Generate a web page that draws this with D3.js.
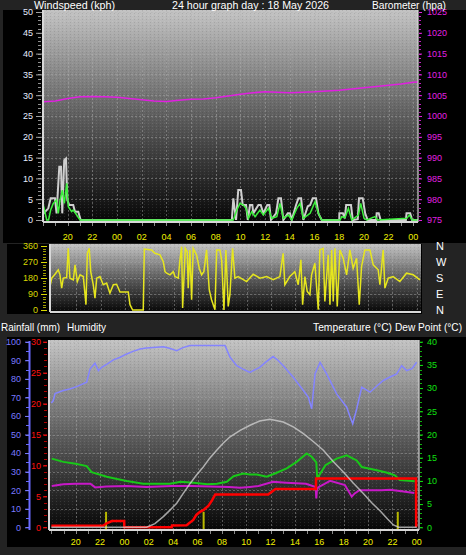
<!DOCTYPE html>
<html><head><meta charset="utf-8">
<script src="https://cdn.jsdelivr.net/npm/d3@7"></script>
<style>html,body{margin:0;padding:0;background:#232323;overflow:hidden}svg{display:block}</style>
</head><body><svg id="c" width="466" height="555"></svg>
<script>
// ---------- DATA (hours counted from 00:00 of previous day) ----------
const xTickHours = [20,22,24,26,28,30,32,34,36,38,40,42,44,46,48];
const windTicks = [0,5,10,15,20,25,30,35,40,45,50];
const baroTicks = [975,980,985,990,995,1000,1005,1010,1015,1020,1025];
const dirTicks = [0,90,180,270,360];
const compassLabels = ["N","W","S","E","N"];
const humTicks = [0,10,20,30,40,50,60,70,80,90,100];
const rainTicks = [0,5,10,15,20,25,30];
const tempTicks = [0,5,10,15,20,25,30,35,40];

const avgT = [18.0,18.3,18.45,18.62,18.83,19.1,19.24,19.38,19.57,19.73,19.92,20.05,20.32,20.45,20.73,21.0,33.42,33.7,33.96,34.23,34.45,34.64,34.91,35.18,35.58,35.85,36.26,36.53,36.94,37.2,37.47,37.88,38.15,38.56,38.83,39.09,39.64,40.04,40.31,40.58,42.07,42.2,42.47,42.74,43.01,43.55,43.74,44.01,44.23,44.9,45.1,47.47,47.68,47.9,48.38];
const avgV = [4.0,0,0,2.4,4,4.8,1.6,4.8,7.2,4,8.8,3.2,2.0,2.4,1.2,0,0,2.4,4,3.6,2.8,0.4,2,0.8,2.4,1.2,2.8,0.4,0.8,4,0.4,1.2,0,2.8,4,0.4,1.6,4.4,1.6,0,0,0.8,0.6,2.8,0,1.2,4,0.4,0,0.8,0,0.4,1.2,0,0];
const gustT = [18.02,18.43,18.62,18.97,19.1,19.32,19.46,19.56,19.72,19.86,19.97,20.13,20.45,20.59,20.86,21.05,33.3,33.42,33.64,33.82,34.04,34.18,34.45,34.59,34.77,34.96,35.04,35.45,35.64,35.85,36.17,36.34,36.47,36.88,37.07,37.28,37.47,37.83,38.01,38.15,38.5,38.69,38.91,39.09,39.45,39.64,39.85,40.12,40.31,40.58,42.0,42.01,42.3,42.45,42.56,42.95,43.1,43.5,43.6,43.9,44.1,44.3,45.0,45.03,45.2,45.35,47.4,47.45,47.75,47.9,48.38];
const gustV = [1.5,2.8,5.2,5.2,1.6,12.8,12.8,1.6,14.4,14.8,4.8,3.6,3.6,2.0,2.0,0,0,5.2,0,7.2,7.2,3.6,3.6,0,3.6,3.6,1.6,3.6,3.6,1.6,3.6,3.6,0,1.6,5.2,5.2,0,1.6,1.6,0,3.6,5.2,5.2,0,3.3,3.6,5.2,5.2,1.6,0,0,1.6,1.6,0.4,3.6,3.6,0,0.2,5.2,5.2,1.6,0,0,1.6,1.6,0,0,1.6,1.6,0,0];
const baroT = [18.0,19,20,21,22,23,24,25,26,27,28,29,30,31,32,33,34,35,36,37,38,39,40,41,42,43,44,45,46,47,48,48.38];
const baroV = [1003.4,1003.6,1004.2,1004.6,1004.7,1004.6,1004.5,1004.2,1003.9,1003.6,1003.5,1003.8,1004.0,1004.1,1004.4,1004.8,1005.2,1005.6,1005.8,1005.7,1005.6,1005.7,1005.8,1006.0,1006.2,1006.5,1006.8,1007.1,1007.4,1007.7,1008.1,1008.2];

const dirT = [17.83,17.97,18.24,18.51,18.65,18.79,18.92,19.2,19.33,19.47,19.75,19.89,20.08,20.3,20.57,20.79,20.9,21.06,21.18,21.39,21.53,21.67,21.94,22.21,22.49,22.76,23.04,23.31,23.59,24.27,24.41,24.63,25.5,25.59,26.19,26.46,26.88,27.15,27.29,27.43,27.7,27.97,28.11,28.38,28.52,28.66,28.74,28.85,28.96,29.12,29.2,29.34,29.48,29.61,29.89,30.11,30.3,30.49,30.71,30.93,31.12,31.4,31.54,31.81,31.95,32.14,32.3,32.49,32.63,32.85,33.04,33.31,34.0,34.55,35.1,35.65,36.19,36.74,37.01,37.15,37.56,37.97,38.25,38.47,38.61,38.8,38.99,39.21,39.35,39.62,39.9,40.03,40.3,40.44,40.72,40.86,41.0,41.13,41.27,41.46,41.68,41.95,42.23,42.5,42.77,43.05,43.27,43.46,43.73,44.15,44.42,44.83,44.97,45.24,45.38,45.65,46.06,46.61,47.16,47.71,48.26];
const dirV = [132,179,201,226,198,123,179,183,347,179,170,254,160,198,188,30,319,347,216,142,67,179,188,142,151,95,142,145,101,101,30,0,0,343,338,319,310,272,216,207,198,216,188,179,282,356,11,179,347,328,123,338,58,347,310,235,198,216,338,114,58,2,338,338,282,0,338,20,86,347,179,188,160,201,179,188,170,188,319,142,188,216,142,282,30,188,104,86,198,263,2,338,347,48,310,30,338,48,347,20,338,291,198,338,235,291,30,244,338,338,254,226,142,338,123,179,188,160,207,198,170];

const humT = [18.0,18.16,18.3,18.98,19.5,20.08,20.9,21.17,21.58,21.86,22.13,22.6,23.09,23.6,24.19,24.7,25.28,25.8,26.37,27.19,27.7,28.29,28.8,29.38,30.5,31.5,32.26,32.67,33.22,33.8,34.3,35.1,35.6,36.2,36.6,37.04,37.86,38.69,39.1,39.37,39.65,40.06,40.6,41.42,42.25,42.5,42.74,43.07,43.48,44.16,44.7,45.25,45.8,46.35,46.76,47.17,47.6,47.99];
const humV = [67,68.3,72,73.7,74.5,75.8,78.2,85.3,88.4,84.4,86.2,88,90.2,91.5,93.4,94.8,96.1,96.6,96.9,97.3,96.5,95.2,96.8,97.9,97.9,97.9,97.9,91.6,87.1,85,83.5,86.2,89,92,90,87.1,80.8,73.7,70,63.9,82.7,88.9,82.7,71.9,64.7,60,55.8,63.9,75.5,72.8,76,79.1,81,82.7,87.1,84.4,85.5,88.9];
const tempT = [18.03,18.98,20.0,20.9,21.3,22.55,23.4,24.19,25.55,26.6,27.74,28.6,29.7,30.8,31.6,32.4,32.96,33.76,34.3,34.86,35.68,36.36,37.32,38.14,38.96,39.37,39.75,39.83,40.5,41.42,42.25,43.07,43.48,44.72,45.5,46.2,46.6,47.84];
const tempV = [14.8,14.1,13.7,13.2,11.9,10.9,10.4,10.0,9.4,9.4,9.4,9.8,9.6,9.3,9.4,9.8,11.0,11.6,11.4,11.4,10.9,11.6,12.7,14.1,15.9,15.2,14.0,10.5,13.4,14.8,15.5,14.4,13.0,12.3,11.8,11.2,10.2,9.9];
const dewT = [18.03,18.98,20.0,21.2,21.6,22.5,24.19,25.8,27.9,29.5,31.0,32.6,33.5,34.3,35.0,36.2,37.3,38.9,39.7,39.75,39.8,39.9,40.88,42.1,42.66,42.9,43.3,44.2,45.1,45.8,46.6,47.8];
const dewV = [8.9,9.3,9.4,9.4,8.6,8.8,8.9,8.7,8.9,8.9,8.8,8.7,8.5,8.7,8.9,9.8,9.6,9.4,8.7,6.2,8.0,8.6,10.0,9.1,6.6,7.3,8.0,8.0,8.0,8.1,7.8,7.4];
const rainT = [18.0,22.25,22.5,22.96,23.98,23.99,27.88,27.9,29.1,29.4,29.65,29.9,30.2,30.5,30.9,31.2,31.45,35.8,36.4,39.72,39.73,47.94,47.95];
const rainV = [0.25,0.25,0.6,1.0,1.0,0,0,0.3,0.35,0.8,1.2,2.0,2.5,2.8,3.5,4.4,5.3,5.3,6.2,6.2,7.9,7.9,0];
const solarT = [18.0,25.83,26.5,27.19,27.7,28.29,28.8,29.38,29.9,30.47,31.0,31.57,32.1,32.67,33.5,34.31,35.1,35.95,37.04,37.9,38.69,39.5,40.33,41.1,41.97,42.8,43.61,44.3,45.0,45.6,46.08,46.5,48.0];
const solarV = [0,0,0.8,2.3,3.6,5.2,7.2,9.4,11.2,13.0,14.9,16.6,18.1,19.5,20.9,22.0,22.9,23.3,22.7,21.6,20.2,18.5,16.6,14.3,11.9,9.5,7.3,5.3,3.5,1.8,0.5,0,0];
const rateT = [22.49,30.5,46.44];
const rateV = [2.5,2.5,2.5];

// ---------- DRAW ----------
const svg = d3.select("#c");
const FONT = "Liberation Sans, Arial, sans-serif";
const zip = (a,b) => a.map((t,i)=>({t, v:b[i]}));
const pad = h => String(h%24).padStart(2,"0");
const defs = svg.append("defs");
const grad = defs.append("linearGradient").attr("id","bg").attr("x1",0).attr("y1",0).attr("x2",0).attr("y2",1);
grad.append("stop").attr("offset","0").attr("stop-color","#c4c4c4");
grad.append("stop").attr("offset","0.5").attr("stop-color","#5e5e5e");
grad.append("stop").attr("offset","1").attr("stop-color","#060606");
const pat = defs.append("pattern").attr("id","tex").attr("width",4).attr("height",3).attr("patternUnits","userSpaceOnUse");
pat.append("rect").attr("x",0).attr("y",0).attr("width",1).attr("height",1).attr("fill","#fff").attr("opacity",0.10);
pat.append("rect").attr("x",2).attr("y",1).attr("width",1).attr("height",1).attr("fill","#000").attr("opacity",0.10);

// panels
svg.append("rect").attr("x",3).attr("y",10).attr("width",463).attr("height",233).attr("fill","#000");
svg.append("rect").attr("x",7).attr("y",244).attr("width",415).attr("height",70).attr("fill","#000");
svg.append("rect").attr("x",7).attr("y",337).attr("width",459).attr("height",210).attr("fill","#000");

function plotBg(x0,y0,x1,y1){
  svg.append("rect").attr("x",x0).attr("y",y0).attr("width",x1-x0).attr("height",y1-y0).attr("fill","url(#bg)");
  svg.append("rect").attr("x",x0).attr("y",y0).attr("width",x1-x0).attr("height",y1-y0).attr("fill","url(#tex)");
}
function grid(x, y, xs, ys, x0, x1, y0, y1){
  const g = svg.append("g").attr("stroke","#b0b0b0").attr("stroke-opacity",0.45).attr("stroke-dasharray","2,2").attr("stroke-width",1);
  xs.forEach(h=>g.append("line").attr("x1",Math.round(x(h))+0.5).attr("x2",Math.round(x(h))+0.5).attr("y1",y0).attr("y2",y1));
  ys.forEach(v=>g.append("line").attr("x1",x0).attr("x2",x1).attr("y1",Math.round(y(v))+0.5).attr("y2",Math.round(y(v))+0.5));
}
function frame(x0,y0,x1,y1){
  const g = svg.append("g").attr("stroke","#d8d8d8").attr("stroke-width",2);
  g.append("line").attr("x1",x0).attr("x2",x0).attr("y1",y0).attr("y2",y1);
  g.append("line").attr("x1",x0).attr("x2",x1).attr("y1",y1).attr("y2",y1);
  g.append("line").attr("x1",x1).attr("x2",x1).attr("y1",y0).attr("y2",y1).attr("stroke-opacity",0.6);
}
function hourTicks(x, y0, h0, h1){
  const g = svg.append("g").attr("stroke","#8a8a8a").attr("stroke-width",1);
  for(let h=Math.ceil(h0); h<=h1; h++) g.append("line").attr("x1",Math.round(x(h))+0.5).attr("x2",Math.round(x(h))+0.5).attr("y1",y0).attr("y2",y0+3);
}
function xLabels(x, y){
  svg.append("g").selectAll("text").data(xTickHours).join("text")
    .attr("x",d=>x(d)).attr("y",y).attr("text-anchor","middle").attr("fill","#f0f000")
    .attr("font-family",FONT).attr("font-size",9).text(d=>pad(d));
}
function minor(x0,x1,y,vals,color){
  const g = svg.append("g").attr("stroke",color).attr("stroke-width",1);
  vals.forEach(v=>g.append("line").attr("x1",x0).attr("x2",x1).attr("y1",Math.round(y(v))+0.5).attr("y2",Math.round(y(v))+0.5));
}
function styleAxis(g,color,size){
  g.select(".domain").remove();
  g.selectAll("line").attr("stroke",color);
  g.selectAll("text").attr("fill",color).attr("font-family",FONT).attr("font-size",size);
}
function title(x, txt, len, y){
  svg.append("text").attr("x",x).attr("y",y).attr("fill","#fff").attr("font-family",FONT).attr("font-size",11.5)
    .attr("textLength",len).attr("lengthAdjust","spacingAndGlyphs").text(txt);
}
const line = (x,y) => d3.line().x(d=>x(d.t)).y(d=>y(d.v));
const fmt = d3.format("d");

// ===== Top panel =====
const xTop = d3.scaleLinear().domain([18.0,48.38]).range([43,418]);
const yWind = d3.scaleLinear().domain([0,50]).range([220,12]);
const yBaro = d3.scaleLinear().domain([975,1025]).range([220,12]);
plotBg(43,10,418,222);
grid(xTop,yWind,xTickHours,windTicks.slice(1),43,418,10,222);
svg.append("path").datum(zip(baroT,baroV)).attr("d",line(xTop,yBaro)).attr("fill","none").attr("stroke","#e020e0").attr("stroke-width",1.5);
svg.append("path").datum(zip(gustT,gustV)).attr("d",line(xTop,yWind)).attr("fill","none").attr("stroke","#cfcfcf").attr("stroke-width",2);
svg.append("path").datum(zip(avgT,avgV)).attr("d",line(xTop,yWind)).attr("fill","none").attr("stroke","#3cf03c").attr("stroke-width",1.5);
frame(43,10,418,222);
hourTicks(xTop,223,18,48);
minor(38,41,yWind,d3.range(0,51,1),"#909090");
const aw = svg.append("g").attr("transform","translate(42,0)").call(d3.axisLeft(yWind).tickValues(windTicks).tickFormat(fmt).tickSize(6).tickPadding(3));
styleAxis(aw,"#a0a0a0",9); aw.selectAll("text").attr("fill","#e6ecff");
minor(419,421,yBaro,d3.range(975,1026,1),"#c020c0");
const ab = svg.append("g").attr("transform","translate(419,0)").call(d3.axisRight(yBaro).tickValues(baroTicks).tickFormat(fmt).tickSize(3).tickPadding(5));
styleAxis(ab,"#e020e0",9);
xLabels(xTop,240);
title(34,"Windspeed (kph)",81,8.5);
title(172,"24 hour graph day : 18 May 2026",157,8.5);
title(372,"Barometer (hpa)",74,8.5);

// ===== Middle panel =====
const xMid = d3.scaleLinear().domain([17.83,48.35]).range([50,421]);
const yDir = d3.scaleLinear().domain([0,360]).range([310,246]);
plotBg(50,244,421,312);
grid(xMid,yDir,xTickHours,[90,180,270],50,421,244,312);
svg.append("path").datum(zip(dirT,dirV)).attr("d",line(xMid,yDir)).attr("fill","none").attr("stroke","#e6e61e").attr("stroke-width",1.5);
svg.append("line").attr("x1",50).attr("x2",421).attr("y1",312).attr("y2",312).attr("stroke","#d8d8d8").attr("stroke-width",2);
svg.append("line").attr("x1",50).attr("x2",50).attr("y1",244).attr("y2",312).attr("stroke","#d8d8d8").attr("stroke-width",2);
minor(43,46,yDir,d3.range(0,361,15),"#a0a000");
const ad = svg.append("g").attr("transform","translate(47,0)").call(d3.axisLeft(yDir).tickValues(dirTicks).tickFormat(fmt).tickSize(6).tickPadding(3));
styleAxis(ad,"#d8d800",9);
svg.append("g").selectAll("text").data(compassLabels).join("text")
  .attr("x",436).attr("y",(d,i)=>yDir(360-i*90)+4).attr("fill","#fff").attr("font-family",FONT).attr("font-size",11).text(d=>d);

// ===== Bottom panel =====
const xBot = d3.scaleLinear().domain([17.83,48.1]).range([49.3,418]);
const yHum = d3.scaleLinear().domain([0,100]).range([527.3,341.7]);
const yRain = d3.scaleLinear().domain([0,30]).range([527.3,341.7]);
const yTemp = d3.scaleLinear().domain([0,40]).range([527.3,341.7]);
plotBg(49,340,419,530);
grid(xBot,yHum,xTickHours,humTicks.slice(1),49,419,340,530);
svg.append("g").selectAll("line").data(zip(rateT,rateV)).join("line")
  .attr("x1",d=>xBot(d.t)).attr("x2",d=>xBot(d.t)).attr("y1",d=>yRain(d.v)).attr("y2",530)
  .attr("stroke","#b8b800").attr("stroke-width",2);
svg.append("path").datum(zip(humT,humV)).attr("d",line(xBot,yHum)).attr("fill","none").attr("stroke","#8484ff").attr("stroke-width",1.5);
svg.append("path").datum(zip(tempT,tempV)).attr("d",line(xBot,yTemp)).attr("fill","none").attr("stroke","#18c818").attr("stroke-width",2);
svg.append("path").datum(zip(dewT,dewV)).attr("d",line(xBot,yTemp)).attr("fill","none").attr("stroke","#c818c8").attr("stroke-width",2);
svg.append("path").datum(zip(rainT,rainV)).attr("d",line(xBot,yRain)).attr("fill","none").attr("stroke","#ff0000").attr("stroke-width",2.5);
svg.append("path").datum(zip(solarT,solarV)).attr("d",line(xBot,yTemp)).attr("fill","none").attr("stroke","#d4d4d4").attr("stroke-width",1.5).attr("stroke-opacity",0.75);
frame(49,340,419,530);
hourTicks(xBot,531,18,48);
svg.append("line").attr("x1",29.5).attr("x2",29.5).attr("y1",341).attr("y2",530).attr("stroke","#6a6aff").attr("stroke-width",2);
minor(26,29,yHum,d3.range(0,101,5),"#6a6aff");
const ah = svg.append("g").attr("transform","translate(29,0)").call(d3.axisLeft(yHum).tickValues(humTicks).tickFormat(fmt).tickSize(4).tickPadding(4));
styleAxis(ah,"#7a7aff",9);
minor(44,47,yRain,d3.range(0,31,1),"#b00000");
const ar = svg.append("g").attr("transform","translate(47,0)").call(d3.axisLeft(yRain).tickValues(rainTicks).tickFormat(fmt).tickSize(4).tickPadding(2));
styleAxis(ar,"#ff1010",9);
minor(420,422,yTemp,d3.range(0,41,1),"#10b010");
const at = svg.append("g").attr("transform","translate(420,0)").call(d3.axisRight(yTemp).tickValues(tempTicks).tickFormat(fmt).tickSize(3).tickPadding(4));
styleAxis(at,"#10e010",9);
xLabels(xBot,545);
title(1,"Rainfall (mm)",59,331);
title(67,"Humidity",39,331);
title(313,"Temperature (°C)",79,331);
title(395,"Dew Point (°C)",67,331);
</script></body></html>
